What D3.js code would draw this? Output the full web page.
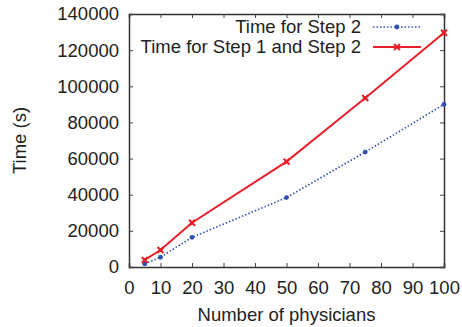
<!DOCTYPE html>
<html>
<head>
<meta charset="utf-8">
<script src="https://cdn.jsdelivr.net/npm/d3@7"></script>
<style>
  body { margin: 0; background: #fff; }
  text { font-family: "Liberation Sans", Arial, sans-serif; fill: #222; }
</style>
</head>
<body>
<div id="chart"></div>
<script>
// data
const physicians = [5, 10, 20, 50, 75, 100];
const step2 = [1700, 5400, 16400, 38400, 63600, 90000];
const step1and2 = [3900, 9400, 24500, 58300, 93500, 129600];
const xTicks = [0, 10, 20, 30, 40, 50, 60, 70, 80, 90, 100];
const yTicks = [0, 20000, 40000, 60000, 80000, 100000, 120000, 140000];

const fontSize = "18.5px";

const svg = d3.select("#chart").append("svg")
    .attr("width", 462)
    .attr("height", 327);

const margin = {top: 14, right: 18, bottom: 60, left: 129},
    width = 462 - margin.left - margin.right,
    height = 327 - margin.top - margin.bottom;

const x = d3.scaleLinear().domain([0, 100]).range([0, width]);
const y = d3.scaleLinear().domain([0, 140000]).range([height, 0]);

const g = svg.append("g")
    .attr("transform", "translate(" + margin.left + "," + margin.top + ")");

// ticks pointing inward, mirrored on top and right (gnuplot style)
const tickLen = 4;
g.append("g").attr("class", "axis axis--x")
    .attr("transform", "translate(0," + height + ")")
    .call(d3.axisBottom(x).tickValues(xTicks).tickSize(-tickLen).tickPadding(14));
g.append("g").attr("class", "axis axis--x2")
    .call(d3.axisTop(x).tickValues(xTicks).tickSize(-tickLen).tickFormat(""));
g.append("g").attr("class", "axis axis--y")
    .call(d3.axisLeft(y).tickValues(yTicks).tickSize(-tickLen).tickPadding(10).tickFormat(d3.format("d")));
g.append("g").attr("class", "axis axis--y2")
    .attr("transform", "translate(" + width + ",0)")
    .call(d3.axisRight(y).tickValues(yTicks).tickSize(-tickLen).tickFormat(""));

g.selectAll(".axis path").attr("stroke", "#333").attr("stroke-width", 1.5);
g.selectAll(".axis line").attr("stroke", "#444").attr("stroke-width", 1);
g.selectAll(".axis text").style("font-size", fontSize).attr("fill", "#222");

// axis titles
svg.append("text")
    .attr("transform", "rotate(-90)")
    .attr("x", -(margin.top + height / 2))
    .attr("y", 26)
    .attr("text-anchor", "middle")
    .style("font-size", fontSize)
    .text("Time (s)");

svg.append("text")
    .attr("x", margin.left + width / 2)
    .attr("y", 321)
    .attr("text-anchor", "middle")
    .style("font-size", fontSize)
    .text("Number of physicians");

const series = [
  {name: "Time for Step 2", values: step2, color: "#3050b0", dash: "1.5,2", width: 1.6, marker: "dot"},
  {name: "Time for Step 1 and Step 2", values: step1and2, color: "#e8202a", dash: null, width: 2, marker: "cross"}
];

const line = d3.line()
    .x((d, i) => x(physicians[i]))
    .y(d => y(d));

function drawMarker(sel, s, cx, cy) {
  if (s.marker === "dot") {
    sel.append("circle")
        .attr("cx", cx).attr("cy", cy).attr("r", 2.4)
        .attr("fill", s.color);
  } else {
    const r = 3;
    sel.append("path")
        .attr("d", `M${cx - r},${cy - r}L${cx + r},${cy + r}M${cx - r},${cy + r}L${cx + r},${cy - r}`)
        .attr("stroke", s.color).attr("stroke-width", 2);
    sel.append("rect")
        .attr("x", cx - 2).attr("y", cy - 2).attr("width", 4).attr("height", 4)
        .attr("fill", s.color);
  }
}

series.forEach(function(s) {
  g.append("path")
      .datum(s.values)
      .attr("fill", "none")
      .attr("stroke", s.color)
      .attr("stroke-width", s.width)
      .attr("stroke-dasharray", s.dash)
      .attr("d", line);
  const mg = g.append("g");
  s.values.forEach(function(v, i) {
    drawMarker(mg, s, x(physicians[i]), y(v));
  });
});

// legend
const legend = svg.append("g");
series.forEach(function(s, i) {
  const ly = 27 + i * 20;
  legend.append("text")
      .attr("x", 361)
      .attr("y", ly)
      .attr("dy", "0.35em")
      .attr("text-anchor", "end")
      .style("font-size", fontSize)
      .text(s.name);
  legend.append("line")
      .attr("x1", 373).attr("x2", 421)
      .attr("y1", ly).attr("y2", ly)
      .attr("stroke", s.color)
      .attr("stroke-width", s.width)
      .attr("stroke-dasharray", s.dash);
  drawMarker(legend, s, 397, ly);
});
</script>
</body>
</html>
